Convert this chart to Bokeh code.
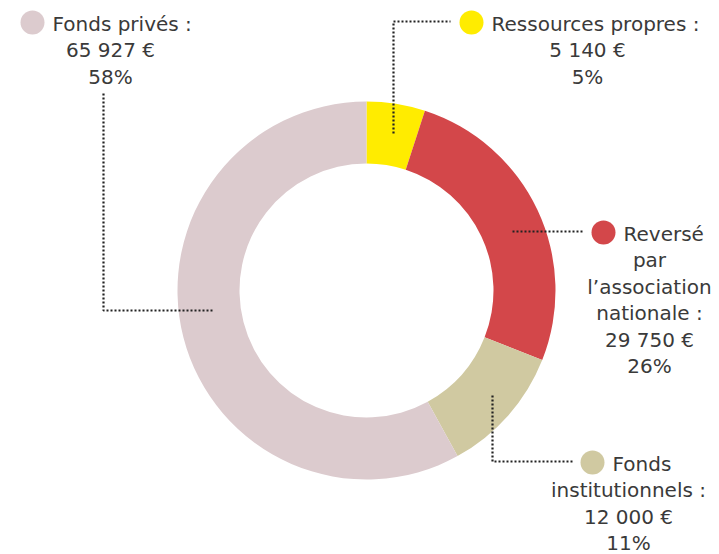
import math
from bokeh.plotting import figure
from bokeh.models import Range1d
from bokeh.core.properties import value
from bokeh.embed import file_html
from bokeh.resources import INLINE

# ---- data ----
categories = ["Ressources propres", "Reversé par l’association nationale",
              "Fonds institutionnels", "Fonds privés"]
amounts = ["5 140 €", "29 750 €", "12 000 €", "65 927 €"]
percents = [5, 26, 11, 58]
colors = ["#ffec00", "#d3474a", "#d0c9a1", "#dccbce"]

# label lines (first line carries the colour dot)
label_lines = [
    ["Ressources propres :", "5 140 €", "5%"],
    ["Reversé", "par", "l’association", "nationale :", "29 750 €", "26%"],
    ["Fonds", "institutionnels :", "12 000 €", "11%"],
    ["Fonds privés :", "65 927 €", "58%"],
]

# ---- layout (screen px, y down; converted to y = -screen_y) ----
W, H = 719, 554
CX, CY = 366, 290
R_OUT, R_IN = 189, 127
TEXT = "#3a3a3a"
FONT = "DejaVu Sans"
FS = "20px"
LH = 26.5

# block layout: (dot center x, first line y, block center x)
blocks = [
    (471, 22, 587),
    (603, 232, 649),
    (592, 462, 628),
    (32, 22, 110),
]

p = figure(width=W, height=H, x_range=Range1d(0, W), y_range=Range1d(-H, 0),
           output_backend="svg", toolbar_location=None,
           x_axis_type=None, y_axis_type=None, min_border=0)
p.outline_line_color = None
p.grid.visible = False
p.background_fill_color = "white"

# donut
cum = 0.0
for pct, col in zip(percents, colors):
    start = math.pi / 2 - 2 * math.pi * (cum + pct) / 100.0
    end = math.pi / 2 - 2 * math.pi * cum / 100.0
    p.annular_wedge(x=CX, y=-CY, inner_radius=R_IN, outer_radius=R_OUT,
                    start_angle=start, end_angle=end,
                    fill_color=col, line_color=None)
    cum += pct

# leader lines (dotted)
leaders = [
    ([393, 393, 450], [133, 21, 21]),
    ([512, 584], [231, 231]),
    ([492, 492, 574], [395, 461, 461]),
    ([103, 103, 212], [93, 310, 310]),
]
for xs, ys in leaders:
    p.line(x=xs, y=[-v for v in ys], line_color="#222222", line_width=2.2,
           line_dash="2 2")

# labels
for (dx, y0, bc), lines, col in zip(blocks, label_lines, colors):
    p.scatter(x=[dx], y=[-y0], size=24, marker="circle", fill_color=col, line_color=None)
    p.text(x=[dx + 20], y=[-(y0 + 1)], text=[lines[0]], text_font=value(FONT),
           text_font_size=FS, text_color=TEXT, text_align="left", text_baseline="middle")
    for i, ln in enumerate(lines[1:], start=1):
        p.text(x=[bc], y=[-(y0 + 1 + i * LH)], text=[ln], text_font=value(FONT),
               text_font_size=FS, text_color=TEXT, text_align="center",
               text_baseline="middle")

open("out.html", "w").write(file_html(p, INLINE))
